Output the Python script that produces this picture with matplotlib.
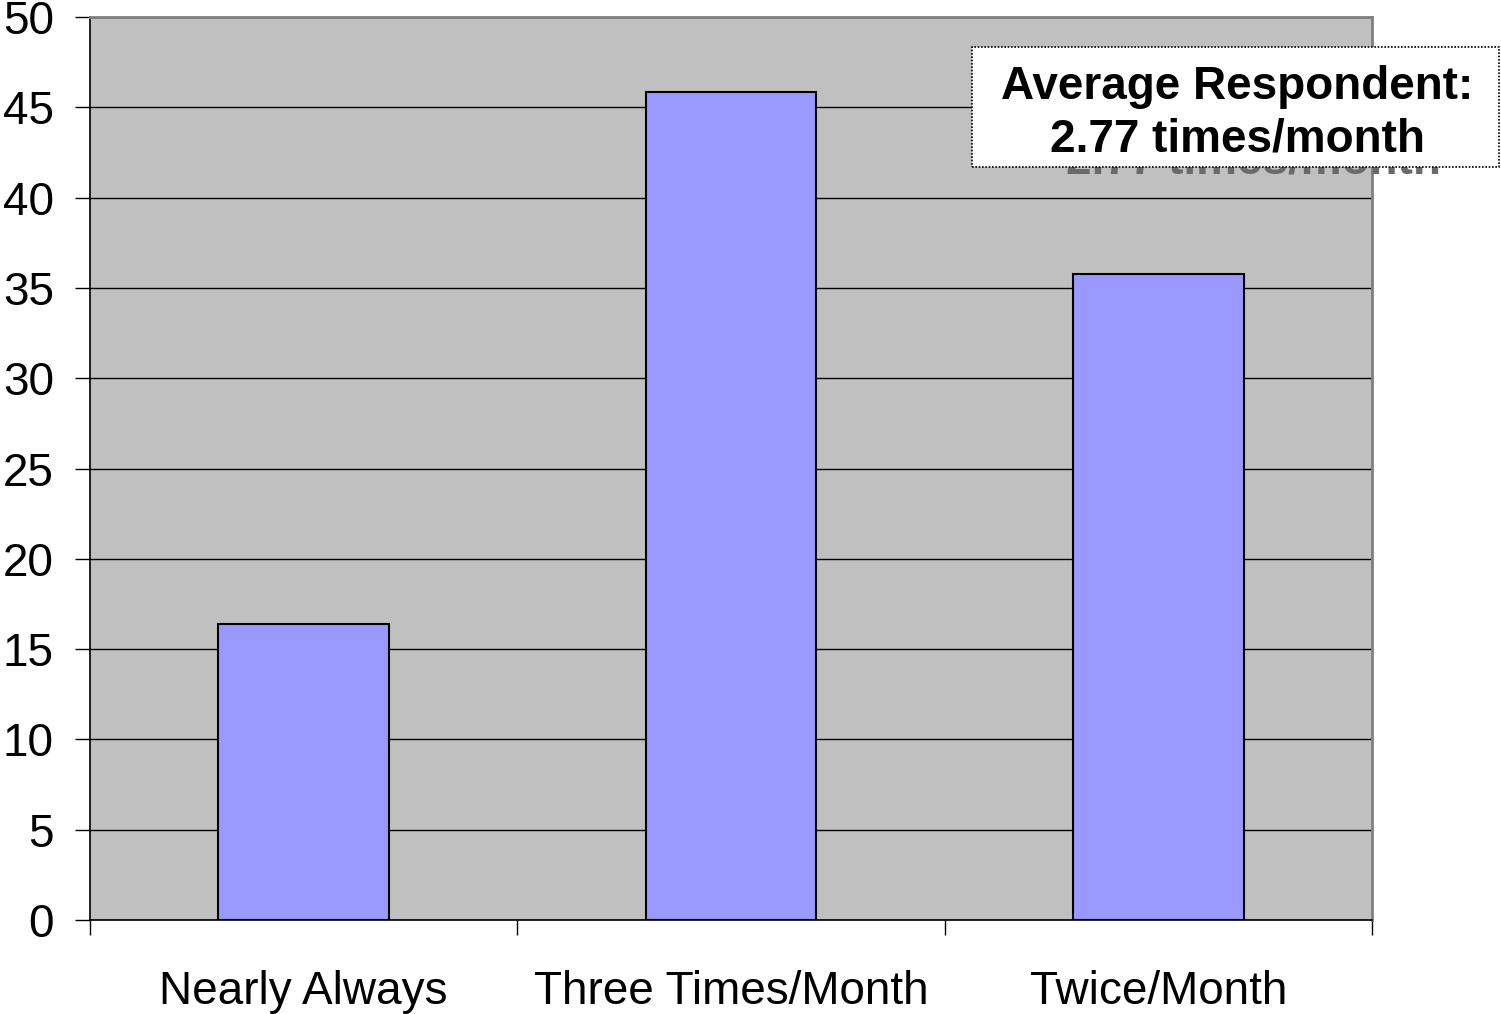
import matplotlib
matplotlib.use("Agg")
import matplotlib.pyplot as plt
import numpy as np

categories = ["Nearly Always", "Three Times/Month", "Twice/Month"]
values = [16.4, 45.85, 35.75]
yticks = [0, 5, 10, 15, 20, 25, 30, 35, 40, 45, 50]
note_line1 = "Average Respondent:"
note_line2 = "2.77 times/month"

plt.rcParams['font.family'] = ['Liberation Sans', 'DejaVu Sans']

W, H = 1501, 1014
fig = plt.figure(figsize=(W / 100, H / 100), dpi=100)
ax = fig.add_axes([90 / W, 1 - 920 / H, (1372 - 90) / W, (920 - 17) / H])
ax.set_facecolor('#C0C0C0')

x = np.arange(len(categories))
ax.bar(x, values, width=0.4, color='#9999FF', edgecolor='black', linewidth=1.5, zorder=3)

ax.set_xlim(-0.5, len(categories) - 0.5)
ax.set_ylim(0, 50)
ax.set_yticks(yticks)
ax.set_yticklabels([str(v) for v in yticks])
ax.yaxis.grid(True, color='black', linewidth=1.0, zorder=1)
ax.set_axisbelow(True)

ax.set_xticks(np.arange(len(categories) + 1) - 0.5)
ax.set_xticklabels([])
ax.set_xticks(x, minor=True)
ax.set_xticklabels(categories, minor=True)
ax.tick_params(axis='x', which='major', length=11, width=1, direction='out', color='black')
ax.tick_params(axis='x', which='minor', length=0, pad=36, labelsize=33)
ax.tick_params(axis='y', length=11, width=1, direction='out', pad=15, labelsize=33, color='black')

for s in ['left', 'bottom']:
    ax.spines[s].set_color('black')
    ax.spines[s].set_linewidth(1.2)
for s in ['top', 'right']:
    ax.spines[s].set_color('#808080')
    ax.spines[s].set_linewidth(2)

# ghost text behind the note box
fig.text(1254 / W, 1 - 173 / H, note_line2, ha='center', va='baseline',
         fontsize=33, fontweight='bold', color='#6a6a6a', zorder=5)

# note box
box = matplotlib.patches.Rectangle((972 / W, 1 - 167 / H), (1499 - 972) / W, (167 - 47) / H,
                                   transform=fig.transFigure, facecolor='white',
                                   edgecolor='black', linewidth=1.2, linestyle=(0, (1, 1)),
                                   zorder=6)
fig.add_artist(box)
fig.text(1237 / W, 1 - 87 / H, note_line1, ha='center', va='center',
         fontsize=33, fontweight='bold', color='black', zorder=7)
fig.text(1237 / W, 1 - 140 / H, note_line2, ha='center', va='center',
         fontsize=33, fontweight='bold', color='black', zorder=7)

fig.savefig('out.png', dpi=100)
